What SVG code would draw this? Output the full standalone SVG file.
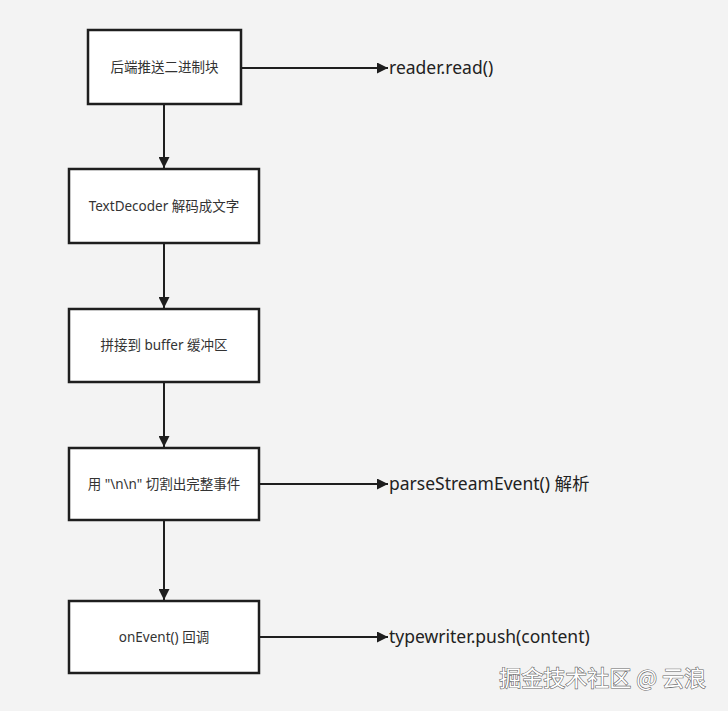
<svg xmlns="http://www.w3.org/2000/svg" width="728" height="711" viewBox="0 0 728 711">
<style>
.b{fill:#fff;stroke:#1e1e1e;stroke-width:2.5}
.t{font-family:"Noto Sans","Noto Sans CJK SC",sans-serif;font-size:13.5px;fill:#333;text-anchor:middle}
.l{font-family:"Noto Sans","Noto Sans CJK SC",sans-serif;font-size:17.5px;fill:#222}
.c{stroke:#1e1e1e;stroke-width:2;fill:none}
</style>
<defs>
<marker id="m" viewBox="0 0 10 10" refX="10" refY="5" markerWidth="11" markerHeight="11" orient="auto" markerUnits="userSpaceOnUse"><path d="M0,0L10,5L0,10z" fill="#1e1e1e"/></marker></defs>
<rect width="728" height="711" fill="#f3f3f3"/>
<g id="connectors">
<path class="c" d="M164,104V168" marker-end="url(#m)"/>
<path class="c" d="M164,243V308" marker-end="url(#m)"/>
<path class="c" d="M164,382V447" marker-end="url(#m)"/>
<path class="c" d="M164,520V600" marker-end="url(#m)"/>
<path class="c" d="M241,68H388" marker-end="url(#m)"/>
<path class="c" d="M259,484H388" marker-end="url(#m)"/>
<path class="c" d="M259,637H388" marker-end="url(#m)"/>
</g>
<g id="n1"><rect class="b" x="88" y="30" width="153" height="74"/><text class="t" x="164.5" y="72">后端推送二进制块</text></g>
<g id="n2"><rect class="b" x="69" y="169" width="190" height="74"/><text class="t" x="164" y="211">TextDecoder 解码成文字</text></g>
<g id="n3"><rect class="b" x="69" y="309" width="190" height="73"/><text class="t" x="164" y="350">拼接到 buffer 缓冲区</text></g>
<g id="n4"><rect class="b" x="69" y="448" width="190" height="72"/><text class="t" x="164" y="489">用 "\n\n" 切割出完整事件</text></g>
<g id="n5"><rect class="b" x="69" y="601" width="190" height="72"/><text class="t" x="164" y="642">onEvent() 回调</text></g>
<g id="labels">
<text class="l" x="389" y="74">reader.read()</text>
<text class="l" x="389" y="490">parseStreamEvent() 解析</text>
<text class="l" x="389" y="643">typewriter.push(content)</text>
</g>
<text x="706" y="686" text-anchor="end" font-family="Noto Sans CJK SC,sans-serif" font-size="22" fill="#fff" stroke="#666" stroke-width="1.2" paint-order="stroke">掘金技术社区 @ 云浪</text>
</svg>
